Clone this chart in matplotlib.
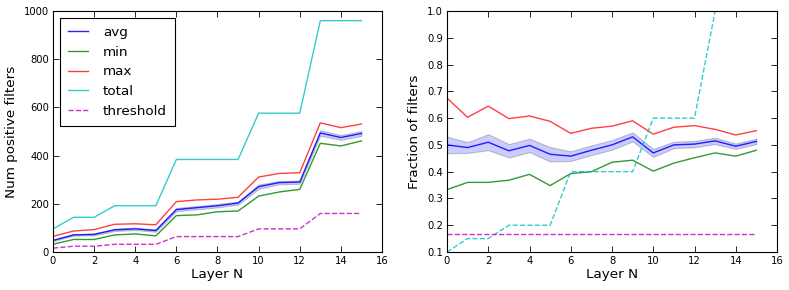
import matplotlib
matplotlib.use("Agg")
import matplotlib.pyplot as plt
import numpy as np

layers = list(range(16))

# Left panel: counts
total_count = [96, 144, 144, 192, 192, 192, 384, 384, 384, 384, 576, 576, 576, 960, 960, 960]
threshold_count = [16, 24, 24, 32, 32, 32, 64, 64, 64, 64, 96, 96, 96, 160, 160, 160]
avg_count = [48, 71, 73, 92, 96, 89, 176, 184, 192, 203, 271, 288, 290, 494, 475, 492]
std_count = [3, 3, 4, 5, 5, 5, 7, 7, 7, 6.5, 9, 7, 7, 11.5, 10, 10]
min_count = [32, 52, 52, 71, 75, 67, 151, 154, 167, 170, 232, 249, 260, 451, 440, 461]
max_count = [65, 87, 93, 115, 117, 113, 209, 216, 219, 227, 311, 326, 329, 536, 516, 531]

# Right panel: fractions
total_frac = [0.1, 0.15, 0.15, 0.2, 0.2, 0.2, 0.4, 0.4, 0.4, 0.4, 0.6, 0.6, 0.6, 1.0, 1.0, 1.0]
threshold_frac = [0.1667] * 16
avg_frac = [0.50, 0.49, 0.51, 0.478, 0.498, 0.465, 0.458, 0.48, 0.50, 0.53, 0.47, 0.50, 0.503, 0.515, 0.495, 0.513]
std_frac = [0.031, 0.02, 0.03, 0.025, 0.025, 0.027, 0.018, 0.018, 0.018, 0.017, 0.015, 0.012, 0.012, 0.012, 0.01, 0.01]
min_frac = [0.333, 0.36, 0.36, 0.368, 0.39, 0.348, 0.393, 0.40, 0.435, 0.443, 0.402, 0.432, 0.452, 0.47, 0.458, 0.48]
max_frac = [0.675, 0.603, 0.645, 0.598, 0.608, 0.588, 0.543, 0.562, 0.57, 0.59, 0.54, 0.566, 0.572, 0.558, 0.537, 0.553]

BLUE = (0, 0, 1)
GREEN = (0, 0.5, 0)
RED = (1, 0, 0)
CYAN = (0, 0.75, 0.75)
MAG = (0.75, 0, 0.75)

fig = plt.figure(figsize=(7.89, 2.90), dpi=100)
fig.patch.set_facecolor("white")
ax1 = fig.add_axes([53 / 789, 38 / 290, 329 / 789, 241 / 290])
ax2 = fig.add_axes([447 / 789, 38 / 290, 330 / 789, 241 / 290])

def style(ax):
    ax.tick_params(direction="in", top=True, right=True, labelsize=7.2, length=4, width=0.6, pad=3)
    for s in ax.spines.values():
        s.set_linewidth(0.8)
    ax.set_xlim(0, 16)
    ax.set_xticks(range(0, 17, 2))
    ax.set_xlabel("Layer N", fontsize=9.7, labelpad=1)

def panel(ax, avg, std, mn, mx, tot, thr, tot_dashed):
    avg = np.array(avg); std = np.array(std)
    ax.fill_between(layers, avg - std, avg + std, facecolor=BLUE, edgecolor="k", alpha=0.2, linewidth=0.8)
    ax.plot(layers, avg, color=BLUE, lw=1, alpha=0.85, label="avg")
    ax.plot(layers, mn, color=GREEN, lw=1, alpha=0.8, label="min")
    ax.plot(layers, mx, color=RED, lw=1, alpha=0.75, label="max")
    ax.plot(layers, tot, color=CYAN, lw=1, alpha=0.8, ls="--" if tot_dashed else "-", label="total")
    ax.plot(layers, thr, color=MAG, lw=1, alpha=0.8, ls="--", label="threshold")

panel(ax1, avg_count, std_count, min_count, max_count, total_count, threshold_count, False)
panel(ax2, avg_frac, std_frac, min_frac, max_frac, total_frac, threshold_frac, True)

style(ax1)
style(ax2)
ax1.set_ylim(0, 1000)
ax1.set_yticks(range(0, 1001, 200))
ax1.set_ylabel("Num positive filters", fontsize=9.7, labelpad=4)
ax2.set_ylim(0.1, 1.0)
ax2.set_yticks(np.arange(0.1, 1.01, 0.1))
ax2.set_yticklabels([f"{v:.1f}" for v in np.arange(0.1, 1.01, 0.1)])
ax2.set_ylabel("Fraction of filters", fontsize=9.7, labelpad=4)

leg = ax1.legend(loc="upper left", fontsize=9.7, fancybox=False, framealpha=1,
                 edgecolor="k", handlelength=1.5, handletextpad=1.1, labelspacing=0.5,
                 borderpad=0.6, borderaxespad=0.5)
leg.get_frame().set_linewidth(0.8)

fig.savefig("out.png", dpi=100, facecolor="white")
